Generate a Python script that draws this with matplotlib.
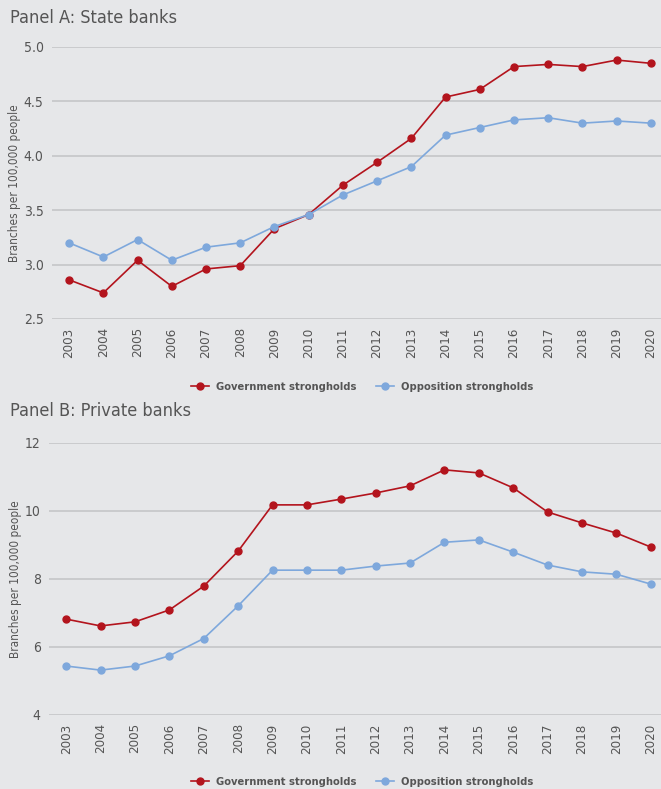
import matplotlib
matplotlib.use('Agg')
import matplotlib.pyplot as plt
from matplotlib.lines import Line2D

plt.rcParams['font.family'] = ['DejaVu Sans']
plt.rcParams['font.stretch'] = 'condensed'

years = list(range(2003, 2021))

state_gov = [2.86, 2.74, 3.04, 2.80, 2.96, 2.99, 3.33, 3.46, 3.73, 3.94,
             4.16, 4.54, 4.61, 4.82, 4.84, 4.82, 4.88, 4.85]
state_opp = [3.20, 3.07, 3.23, 3.04, 3.16, 3.20, 3.35, 3.46, 3.64, 3.77,
             3.90, 4.19, 4.26, 4.33, 4.35, 4.30, 4.32, 4.30]

private_gov = [6.82, 6.62, 6.74, 7.09, 7.79, 8.82, 10.18, 10.18, 10.35, 10.53,
               10.74, 11.21, 11.12, 10.68, 9.97, 9.65, 9.35, 8.94]
private_opp = [5.44, 5.32, 5.44, 5.74, 6.25, 7.21, 8.26, 8.26, 8.26, 8.38,
               8.47, 9.08, 9.15, 8.79, 8.41, 8.21, 8.14, 7.85]

state_ticks = [2.5, 3.0, 3.5, 4.0, 4.5, 5.0]
private_ticks = [4, 6, 8, 10, 12]

series_names = ['Government strongholds', 'Opposition strongholds']

BG = '#e6e7e9'
RED = '#b3141d'
BLUE = '#7ea8dc'
GRID = '#c8c9cb'
TXT = '#555555'

W, H = 661, 789
fig = plt.figure(figsize=(W / 100, H / 100), dpi=100, facecolor=BG)


def frac(left, top, right, bottom):
    return [left / W, 1 - bottom / H, (right - left) / W, (bottom - top) / H]


def draw_panel(rect, gov, opp, ticks, fmt, title, title_y, legend_y):
    ax = fig.add_axes(rect)
    ax.set_facecolor(BG)
    ax.plot(years, gov, color=RED, lw=1.2, marker='o', ms=5, zorder=3)
    ax.plot(years, opp, color=BLUE, lw=1.2, marker='o', ms=5, zorder=3)
    ax.set_xlim(2002.5, 2020.5)
    ax.set_ylim(ticks[0], ticks[-1])
    ax.set_yticks(ticks)
    ax.set_yticklabels([fmt.format(t) for t in ticks], fontsize=10, color=TXT)
    ax.set_xticks(years)
    ax.set_xticklabels([str(y) for y in years], rotation=90, fontsize=9.5, color=TXT)
    ax.tick_params(length=0, pad=6)
    ax.grid(axis='y', color=GRID, lw=1.3)
    ax.set_axisbelow(True)
    for s in ax.spines.values():
        s.set_visible(False)
    ax.set_ylabel('Branches per 100,000 people', fontsize=8.5, color=TXT, labelpad=2)
    fig.text(10 / W, 1 - title_y / H, title, fontsize=13, color=TXT, va='center')

    handles = [Line2D([], [], color=RED, lw=1.2, marker='o', ms=5),
               Line2D([], [], color=BLUE, lw=1.2, marker='o', ms=5)]
    fig.legend(handles, series_names, loc='center', ncol=2,
               bbox_to_anchor=(362 / W, 1 - legend_y / H), frameon=False,
               labelcolor=TXT, handlelength=1.6,
               handletextpad=0.6, columnspacing=1.8,
               prop={'weight': 'bold', 'size': 8, 'stretch': 'condensed'})
    return ax


draw_panel(frac(52, 47, 668, 319), state_gov, state_opp, state_ticks, '{:.1f}',
           'Panel A: State banks', 18, 387)
draw_panel(frac(49, 443, 668, 715), private_gov, private_opp, private_ticks, '{:.0f}',
           'Panel B: Private banks', 411, 782)

fig.savefig('out.png', dpi=100, facecolor=BG)
